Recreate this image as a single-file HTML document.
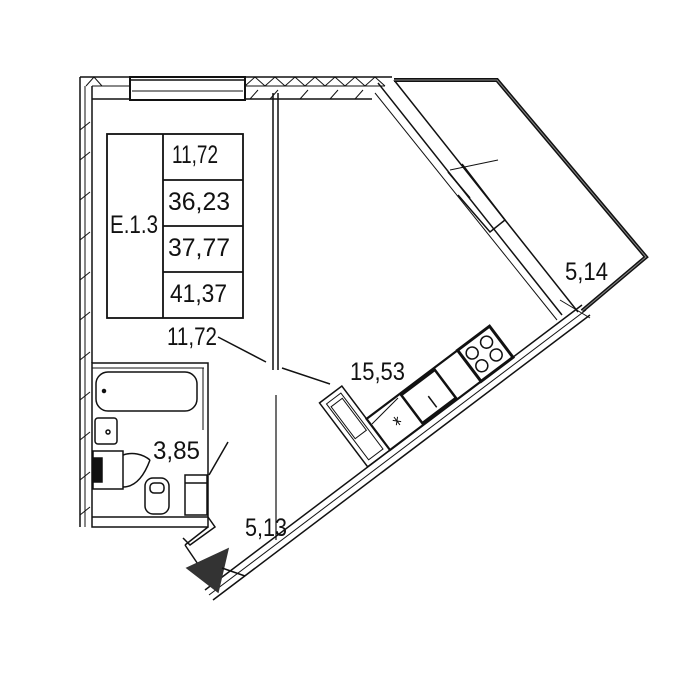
<!DOCTYPE html>
<html><head><meta charset="utf-8"><style>
html,body{margin:0;padding:0;background:#fff;}
svg{display:block}
text{font-family:"Liberation Sans",sans-serif;fill:#111;}
</style></head><body>
<svg width="700" height="674" viewBox="0 0 700 674" xmlns="http://www.w3.org/2000/svg">
<g fill="none" stroke="#111" stroke-width="1.5">
<!-- top wall -->
<line x1="80" y1="77" x2="392" y2="77"/>
<line x1="92" y1="86" x2="385" y2="86" stroke-width="1"/>
<line x1="92" y1="99" x2="372" y2="99"/>
<path d="M86 86 L94 77 L102 86 M245 86 L255 77 L265 86 L275 77 L285 86 L295 77 L305 86 L315 77 L325 86 L335 77 L345 86 L355 77 L365 86 L375 77 L385 86" stroke-width="1"/>
<path d="M250 99 L258 90 M270 99 L278 90 M300 99 L308 90 M330 99 L338 90 M355 99 L363 90" stroke-width="1"/>
<!-- window top -->
<rect x="130" y="77" width="115" height="23" fill="#fff" stroke-width="2"/>
<line x1="130" y1="80" x2="245" y2="80"/>
<line x1="132" y1="91" x2="243" y2="91" stroke-width="1"/>
<!-- left wall -->
<line x1="80" y1="77" x2="80" y2="527"/>
<line x1="85" y1="86" x2="85" y2="527" stroke-width="1"/>
<line x1="92" y1="86" x2="92" y2="363"/>
<path d="M80 130 L90 122 M80 160 L90 152 M80 200 L90 192 M80 240 L90 232 M80 280 L90 272 M80 320 L90 312 M80 360 L90 352 M80 400 L90 392 M80 440 L90 432 M80 480 L90 472 M80 515 L90 507" stroke-width="1"/>
<!-- partition -->
<line x1="273" y1="93" x2="273" y2="370"/>
<line x1="278" y1="93" x2="278" y2="370"/>
<line x1="276" y1="395" x2="276" y2="540" stroke-width="1.2"/>
<!-- table -->
<rect x="107" y="134" width="136" height="184" stroke-width="1.8"/>
<line x1="163" y1="134" x2="163" y2="318" stroke-width="1.8"/>
<line x1="163" y1="180" x2="243" y2="180" stroke-width="1.8"/>
<line x1="163" y1="226" x2="243" y2="226" stroke-width="1.8"/>
<line x1="163" y1="272" x2="243" y2="272" stroke-width="1.8"/>
<!-- leader lines -->
<line x1="218" y1="337" x2="266" y2="362"/>
<line x1="282" y1="368" x2="330" y2="384"/>
<line x1="228" y1="442" x2="209" y2="475"/>
<!-- balcony diagonal wall -->
<line x1="378" y1="83" x2="562" y2="315"/>
<line x1="394" y1="80" x2="578" y2="312"/>
<line x1="375" y1="93" x2="557" y2="320" stroke-width="1"/>
<line x1="450" y1="170" x2="498" y2="160" stroke-width="1"/>
<path d="M448 172 L470 198 M462 164 L505 220 L490 232 L458 195" stroke-width="1.5"/>
<!-- balcony outer glazing -->
<path d="M394 80 L497 80 L646 257 L582 311" stroke-width="4"/>
<path d="M394 80 L497 80 L646 257 L582 311" stroke="#888" stroke-width="1"/>
<!-- lower diagonal wall -->
<line x1="213" y1="600" x2="590" y2="315"/>
<line x1="209" y1="595" x2="586" y2="310" stroke-width="1"/>
<line x1="205" y1="590" x2="582" y2="305"/>
<line x1="560" y1="300" x2="590" y2="318" stroke-width="1"/>
<!-- bathroom -->
<rect x="92" y="363" width="116" height="164"/>
<line x1="92" y1="368" x2="204" y2="368" stroke-width="1"/>
<line x1="92" y1="517" x2="208" y2="517"/>
<line x1="203" y1="368" x2="203" y2="430" stroke-width="1"/>
<rect x="96" y="372" width="101" height="39" rx="12"/>
<circle cx="104" cy="391" r="1.5" fill="#111"/>
<rect x="95" y="418" width="22" height="26" rx="3"/>
<circle cx="108" cy="432" r="2"/>
<rect x="93" y="451" width="30" height="38"/>
<rect x="94" y="458" width="8" height="24" fill="#111"/>
<path d="M123 455 A28 28 0 0 1 150 460 M123 487 Q140 487 150 460"/>
<rect x="145" y="478" width="24" height="36" rx="8"/>
<rect x="150" y="483" width="14" height="10" rx="4"/>
<rect x="185" y="475" width="22" height="40"/>
<line x1="185" y1="483" x2="207" y2="483"/>
<!-- door -->
<path d="M208 517 L215 527 L190 545 L183 538 M208 527 L185 545" />
<line x1="185" y1="545" x2="206" y2="576"/>
<polygon points="187,568 228,549 218,592" fill="#333" stroke="#333"/>
<line x1="222" y1="568" x2="245" y2="576"/>
</g>
<!-- kitchen -->
<g fill="none" stroke="#111" stroke-width="1.5" transform="translate(390,450) rotate(-37)">
<rect x="-28" y="-80" width="28" height="80"/>
<rect x="-23" y="-75" width="18" height="70" stroke-width="1"/>
<rect x="-21" y="-70" width="14" height="40" stroke-width="1"/>
<rect x="0" y="-39" width="154" height="39" stroke-width="2.2"/>
<rect x="42" y="-37" width="42" height="35" stroke-width="2.5"/>
<line x1="63" y1="-6" x2="63" y2="-20"/>
<rect x="114" y="-39" width="40" height="39" stroke-width="3"/>
<circle cx="124" cy="-28" r="6"/><circle cx="142" cy="-28" r="6"/>
<circle cx="124" cy="-12" r="6"/><circle cx="142" cy="-12" r="6"/>
<path d="M20 -22 L26 -16 M20 -16 L26 -22 M23 -24 L23 -14" stroke-width="1"/>
</g>
<line x1="372" y1="424" x2="398" y2="398" stroke="#111" stroke-width="1"/>
<g font-size="25">
<text x="172" y="163" textLength="46" lengthAdjust="spacingAndGlyphs">11,72</text>
<text x="168" y="210" textLength="62" lengthAdjust="spacingAndGlyphs">36,23</text>
<text x="168" y="256" textLength="62" lengthAdjust="spacingAndGlyphs">37,77</text>
<text x="170" y="302" textLength="57" lengthAdjust="spacingAndGlyphs">41,37</text>
<text x="110" y="233" textLength="48" lengthAdjust="spacingAndGlyphs">E.1.3</text>
<text x="167" y="345" textLength="50" lengthAdjust="spacingAndGlyphs">11,72</text>
<text x="350" y="380" textLength="55" lengthAdjust="spacingAndGlyphs">15,53</text>
<text x="153" y="459" textLength="47" lengthAdjust="spacingAndGlyphs">3,85</text>
<text x="245" y="536" textLength="42" lengthAdjust="spacingAndGlyphs">5,13</text>
<text x="565" y="280" textLength="43" lengthAdjust="spacingAndGlyphs">5,14</text>
</g>
</svg>
</body></html>
